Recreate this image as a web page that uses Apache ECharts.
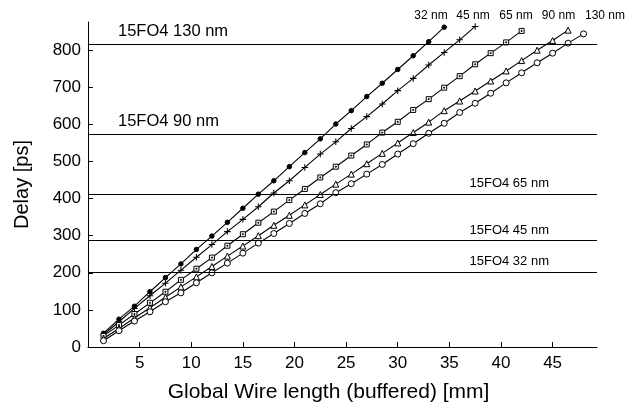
<!DOCTYPE html>
<html><head><meta charset="utf-8">
<script src="https://cdn.jsdelivr.net/npm/echarts@6/dist/echarts.min.js"></script>
<style>html,body{margin:0;padding:0;background:#fff}#c{width:643px;height:410px}</style>
</head><body><div id="c"></div>
<script>
const lengths = [1.5,3,4.5,6,7.5,9,10.5,12,13.5,15,16.5,18,19.5,21,22.5,24,25.5,27,28.5,30,31.5,33,34.5,36,37.5,39,40.5,42,43.5,45,46.5,48];
const nm32  = [37,75,110,149,187,224,263,299,336,374,412,448,486,524,561,601,637,675,711,748,785,823,862];
const nm45  = [33,68,104,138,172,207,242,276,311,344,378,415,448,484,520,553,589,621,655,691,724,760,794,828,864];
const nm65  = [30,59,89,119,149,181,211,241,273,304,335,365,396,426,457,486,516,546,578,607,639,668,699,730,762,792,821,852];
const nm90  = [23,50,78,106,134,162,189,217,245,272,300,328,355,383,411,439,466,494,522,550,578,606,637,663,690,717,744,772,800,826,854];
const nm130 = [17,44,70,95,122,146,173,200,226,253,280,306,333,360,386,416,440,466,492,520,548,576,603,632,657,684,712,739,766,792,819,844];
const seriesNames = ['32 nm','45 nm','65 nm','90 nm','130 nm'];
const limitNames = ['15FO4 130 nm','15FO4 90 nm','15FO4 65 nm','15FO4 45 nm','15FO4 32 nm'];
const limitValues = [817,573,412,287,202];

const F = 'Arial, "Liberation Sans", Helvetica, sans-serif';
const pair = arr => arr.map((v,i)=>[lengths[i],v]);
const syms = [
  {symbol:'circle', size:4.5, fill:'#000'},
  {symbol:'path://M4.2,0H5.8V4.2H10V5.8H5.8V10H4.2V5.8H0V4.2H4.2Z', size:6.5, fill:'#000', bw:0},
  {symbol:'path://M0,0H10V10H0Z M4,4H6V6H4Z', size:5, fill:'#fff'},
  {symbol:'triangle', size:6, fill:'#fff'},
  {symbol:'circle', size:6, fill:'#fff'}
];
const allData = [nm32,nm45,nm65,nm90,nm130];
const series = allData.map((d,i)=>({
  name: seriesNames[i], type:'line', data: pair(d),
  symbol: syms[i].symbol, symbolSize: syms[i].size, showAllSymbol:true,
  lineStyle:{color:'#000', width:1.1},
  itemStyle:{color:syms[i].fill, borderColor:'#000', borderWidth: syms[i].bw===0?0:1},
  emphasis:{disabled:true}, animation:false, z: 3
}));
series.push({
  type:'line', data:[], animation:false,
  markLine:{
    silent:true, symbol:'none', animation:false,
    lineStyle:{color:'#000', type:'solid', width:1},
    data: limitValues.map((v,i)=>({
      yAxis:v,
      label:{
        show:true, formatter: limitNames[i], color:'#000', fontFamily:F,
        fontSize: i<2 ? 16.5 : 13,
        position: i<2 ? 'insideStartTop' : 'insideEndTop',
        distance: i<2 ? [30,4] : [48,4]
      }
    }))
  }
});
const chart = echarts.init(document.getElementById('c'), null, {renderer:'canvas'});
chart.setOption({
  animation:false,
  backgroundColor:'#fff',
  grid:{left:88, right:46, top:22, bottom:63, containLabel:false},
  xAxis:{
    type:'value', min:0, max:49.3, interval:5,
    name:'Global Wire length (buffered) [mm]', nameLocation:'middle', nameGap:35,
    nameTextStyle:{fontFamily:F, fontSize:21, color:'#000', padding:[0,28,0,0]},
    axisLine:{lineStyle:{color:'#000', width:1}},
    axisTick:{inside:true, length:5, lineStyle:{color:'#000'}},
    axisLabel:{fontFamily:F, fontSize:17, color:'#000', margin:8, showMinLabel:false, showMaxLabel:false},
    splitLine:{show:false}
  },
  yAxis:{
    type:'value', min:0, max:876, interval:100,
    name:'Delay [ps]', nameLocation:'middle', nameGap:56,
    nameTextStyle:{fontFamily:F, fontSize:20, color:'#000'},
    axisLine:{show:true, lineStyle:{color:'#000', width:1}},
    axisTick:{show:true, inside:true, length:5, lineStyle:{color:'#000'}},
    axisLabel:{fontFamily:F, fontSize:17, color:'#000', margin:7, showMaxLabel:false},
    splitLine:{show:false}
  },
  graphic: seriesNames.map((n,i)=>({
    type:'text', x:[431,473,516,558.5,605][i], y:16,
    style:{text:n, fontFamily:F, fontSize:12, fill:'#000', align:'center', verticalAlign:'middle'}
  })),
  series: series
});
</script></body></html>
